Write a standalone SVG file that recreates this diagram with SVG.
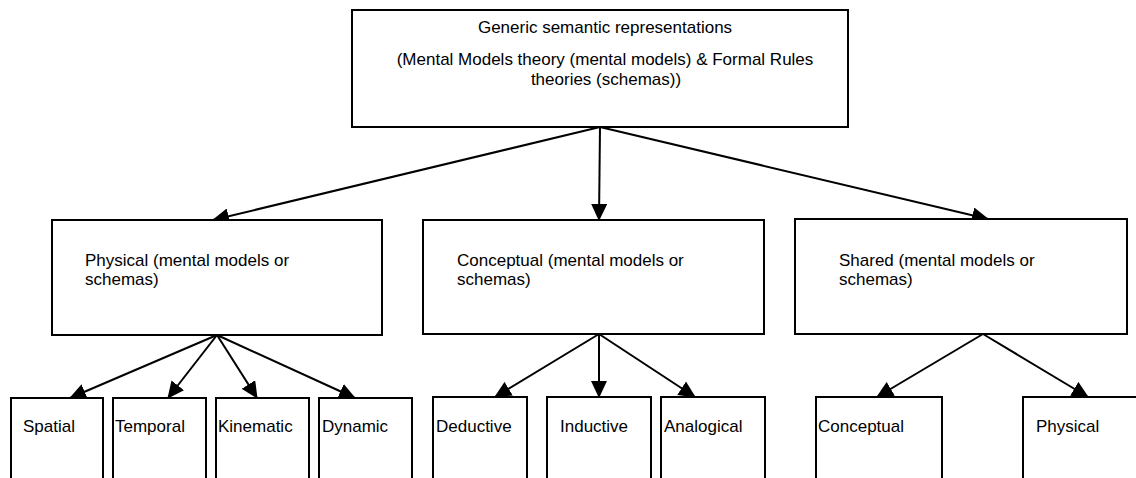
<svg xmlns="http://www.w3.org/2000/svg" width="1136" height="478" viewBox="0 0 1136 478">
  <style>
    .box { fill: #fff; stroke: #000; stroke-width: 2; }
    .lbl { font-family: "Liberation Sans", Arial, sans-serif; font-size: 17px; fill: #000; }
    .link { stroke: #000; stroke-width: 2; fill: none; marker-end: url(#head); }
  </style>
  <defs>
    <marker id="head" markerUnits="userSpaceOnUse" markerWidth="17" markerHeight="16" refX="16" refY="8" orient="auto">
      <path d="M0,0 L17,8 L0,16 Z" fill="#000"/>
    </marker>
  </defs>
  <rect width="1136" height="478" fill="#fff"/>

  <g id="connectors">
    <line class="link" x1="600" y1="127" x2="213" y2="220"/>
    <line class="link" x1="600" y1="127" x2="599" y2="220"/>
    <line class="link" x1="600" y1="127" x2="988" y2="219"/>
    <line class="link" x1="217" y1="335" x2="70" y2="398"/>
    <line class="link" x1="217" y1="335" x2="168" y2="398"/>
    <line class="link" x1="217" y1="335" x2="257" y2="398"/>
    <line class="link" x1="217" y1="335" x2="355" y2="398"/>
    <line class="link" x1="599" y1="334" x2="495" y2="397"/>
    <line class="link" x1="599" y1="334" x2="599" y2="397"/>
    <line class="link" x1="599" y1="334" x2="695" y2="397"/>
    <line class="link" x1="983" y1="334" x2="877" y2="397"/>
    <line class="link" x1="983" y1="334" x2="1088" y2="397"/>
  </g>

  <g id="generic">
    <rect class="box" x="352" y="10" width="496" height="117"/>
    <text class="lbl" x="605" y="33" text-anchor="middle">Generic semantic representations</text>
    <text class="lbl" x="605" y="65" text-anchor="middle">(Mental Models theory (mental models) &amp; Formal Rules</text>
    <text class="lbl" x="606" y="85" text-anchor="middle">theories (schemas))</text>
  </g>

  <g id="physical">
    <rect class="box" x="52" y="220" width="330" height="115"/>
    <text class="lbl" x="85" y="266">Physical (mental models or</text>
    <text class="lbl" x="85" y="285">schemas)</text>
  </g>

  <g id="conceptual">
    <rect class="box" x="423" y="220" width="341" height="114"/>
    <text class="lbl" x="457" y="266">Conceptual (mental models or</text>
    <text class="lbl" x="457" y="285">schemas)</text>
  </g>

  <g id="shared">
    <rect class="box" x="795" y="219" width="332" height="115"/>
    <text class="lbl" x="839" y="266">Shared (mental models or</text>
    <text class="lbl" x="839" y="285">schemas)</text>
  </g>

  <g id="spatial">
    <rect class="box" x="11" y="398" width="92" height="100"/>
    <text class="lbl" x="23" y="432">Spatial</text>
  </g>
  <g id="temporal">
    <rect class="box" x="113" y="398" width="93" height="100"/>
    <text class="lbl" x="115" y="432">Temporal</text>
  </g>
  <g id="kinematic">
    <rect class="box" x="216" y="398" width="93" height="100"/>
    <text class="lbl" x="218" y="432">Kinematic</text>
  </g>
  <g id="dynamic">
    <rect class="box" x="319" y="398" width="93" height="100"/>
    <text class="lbl" x="322" y="432">Dynamic</text>
  </g>

  <g id="deductive">
    <rect class="box" x="433" y="397" width="94" height="100"/>
    <text class="lbl" x="436" y="432">Deductive</text>
  </g>
  <g id="inductive">
    <rect class="box" x="547" y="397" width="104" height="100"/>
    <text class="lbl" x="560" y="432">Inductive</text>
  </g>
  <g id="analogical">
    <rect class="box" x="661" y="397" width="104" height="100"/>
    <text class="lbl" x="664" y="432">Analogical</text>
  </g>

  <g id="shared-conceptual">
    <rect class="box" x="816" y="397" width="126" height="100"/>
    <text class="lbl" x="818" y="432">Conceptual</text>
  </g>
  <g id="shared-physical">
    <rect class="box" x="1023" y="397" width="130" height="100"/>
    <text class="lbl" x="1036" y="432">Physical</text>
  </g>
</svg>
